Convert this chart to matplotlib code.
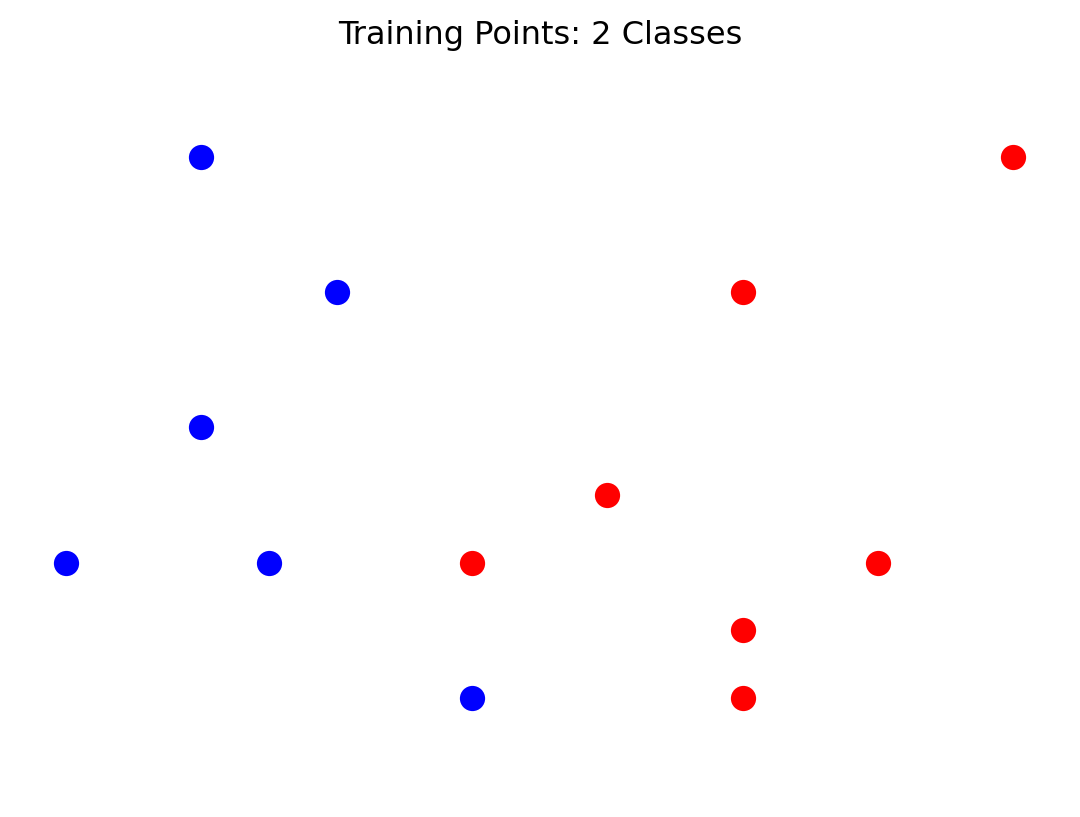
import matplotlib
matplotlib.use("Agg")
import matplotlib.pyplot as plt

# class 0 (blue) and class 1 (red) training points
blue_x = [1, 2, 1, 0, 1.5, 3]
blue_y = [4, 3, 2, 1, 1, 0]
red_x = [7, 5, 4, 3, 6, 5, 5]
red_y = [4, 3, 1.5, 1, 1, 0.5, 0]

fig = plt.figure(figsize=(10.8, 8.17), dpi=100)
ax = fig.add_axes([0, 0, 1, 1 - 52 / 817])

ax.scatter(blue_x, blue_y, c="blue", s=330, linewidths=0)
ax.scatter(red_x, red_y, c="red", s=330, linewidths=0)

# match the reference framing
ax.set_xlim(-66 / 135.3, (1080 - 66) / 135.3)
ax.set_ylim((698 - 817) / 135.3, (698 - 52) / 135.3)
ax.axis("off")
ax.set_title("Training Points: 2 Classes", fontsize=23, pad=6)

fig.savefig("out.png", dpi=100)
